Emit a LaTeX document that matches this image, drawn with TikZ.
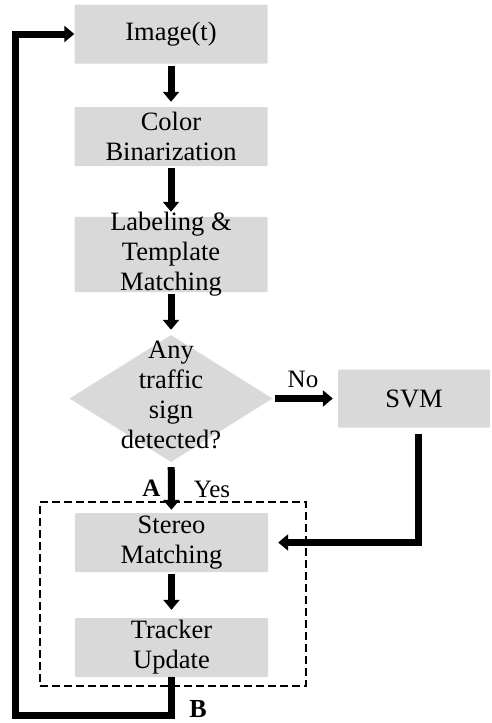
\documentclass[tikz,border=0pt]{standalone}
\usepackage{fontspec}
\setmainfont{Liberation Serif}
\usetikzlibrary{arrows.meta,shapes.geometric}
\definecolor{boxgray}{RGB}{217,217,217}
\begin{document}
\begin{tikzpicture}[x=1pt,y=-1pt,
  stepbox/.style={fill=boxgray,rounded corners=1pt,minimum width=193pt,minimum height=59pt,inner sep=0pt,align=center,font=\fontsize{26.5}{30}\selectfont},
  flow/.style={line width=7pt,-{Triangle[length=10pt,width=16pt]},shorten >=5pt,shorten <=2pt},
  lbl/.style={font=\fontsize{25}{26}\selectfont}]
\useasboundingbox (0,0) rectangle (492,723);
\node[stepbox] (img) at (171,34) {Image(t)};
\node[stepbox] (binar) at (171,136.5) {Color\\Binarization};
\node[stepbox,minimum height=75pt,inner ysep=-4.5pt] (label) at (171,254.5) {Labeling \&\\Template\\Matching};
\node[diamond,fill=boxgray,minimum width=203pt,minimum height=127pt,inner sep=0pt] (detect) at (171,398.5) {};
\node[stepbox,fill=none] (detecttxt) at (171,395) {Any\\traffic\\sign\\detected?};
\node[stepbox,minimum width=152pt,minimum height=58pt] (svm) at (414,398.5) {SVM};
\node[stepbox] (stereo) at (171.5,542.5) {Stereo\\Matching};
\node[stepbox] (tracker) at (171.5,647.5) {Tracker\\Update};
\node[draw,line width=2pt,dash pattern=on 8pt off 4pt,minimum width=266pt,minimum height=184pt,inner sep=0pt] (trackframe) at (173,594) {};
\coordinate (loopfoot) at (15,715);
\draw[flow] (img) -- (binar);
\draw[flow] (binar) -- (label);
\draw[flow] (label) -- (detect);
\draw[flow,shorten <=5pt,shorten >=3pt] (detect) -- (stereo);
\draw[flow,shorten >=8pt] (stereo) -- (tracker);
\draw[flow] (detect) -- (svm);
\draw[flow,shorten <=6pt,shorten >=10pt] ([xshift=4pt]svm.south) |- (stereo.east);
\draw[flow,shorten <=0pt,shorten >=0pt] (tracker.south) |- (loopfoot) |- (img.west);
\node[lbl] (no) at (303,379) {No};
\node[lbl,font=\bfseries\fontsize{25}{26}\selectfont] (ya) at (151.5,488.5) {A};
\node[lbl] (yes) at (212,489) {Yes};
\node[font=\bfseries\fontsize{26}{28}\selectfont] (yb) at (198,709) {B};
\end{tikzpicture}
\end{document}
